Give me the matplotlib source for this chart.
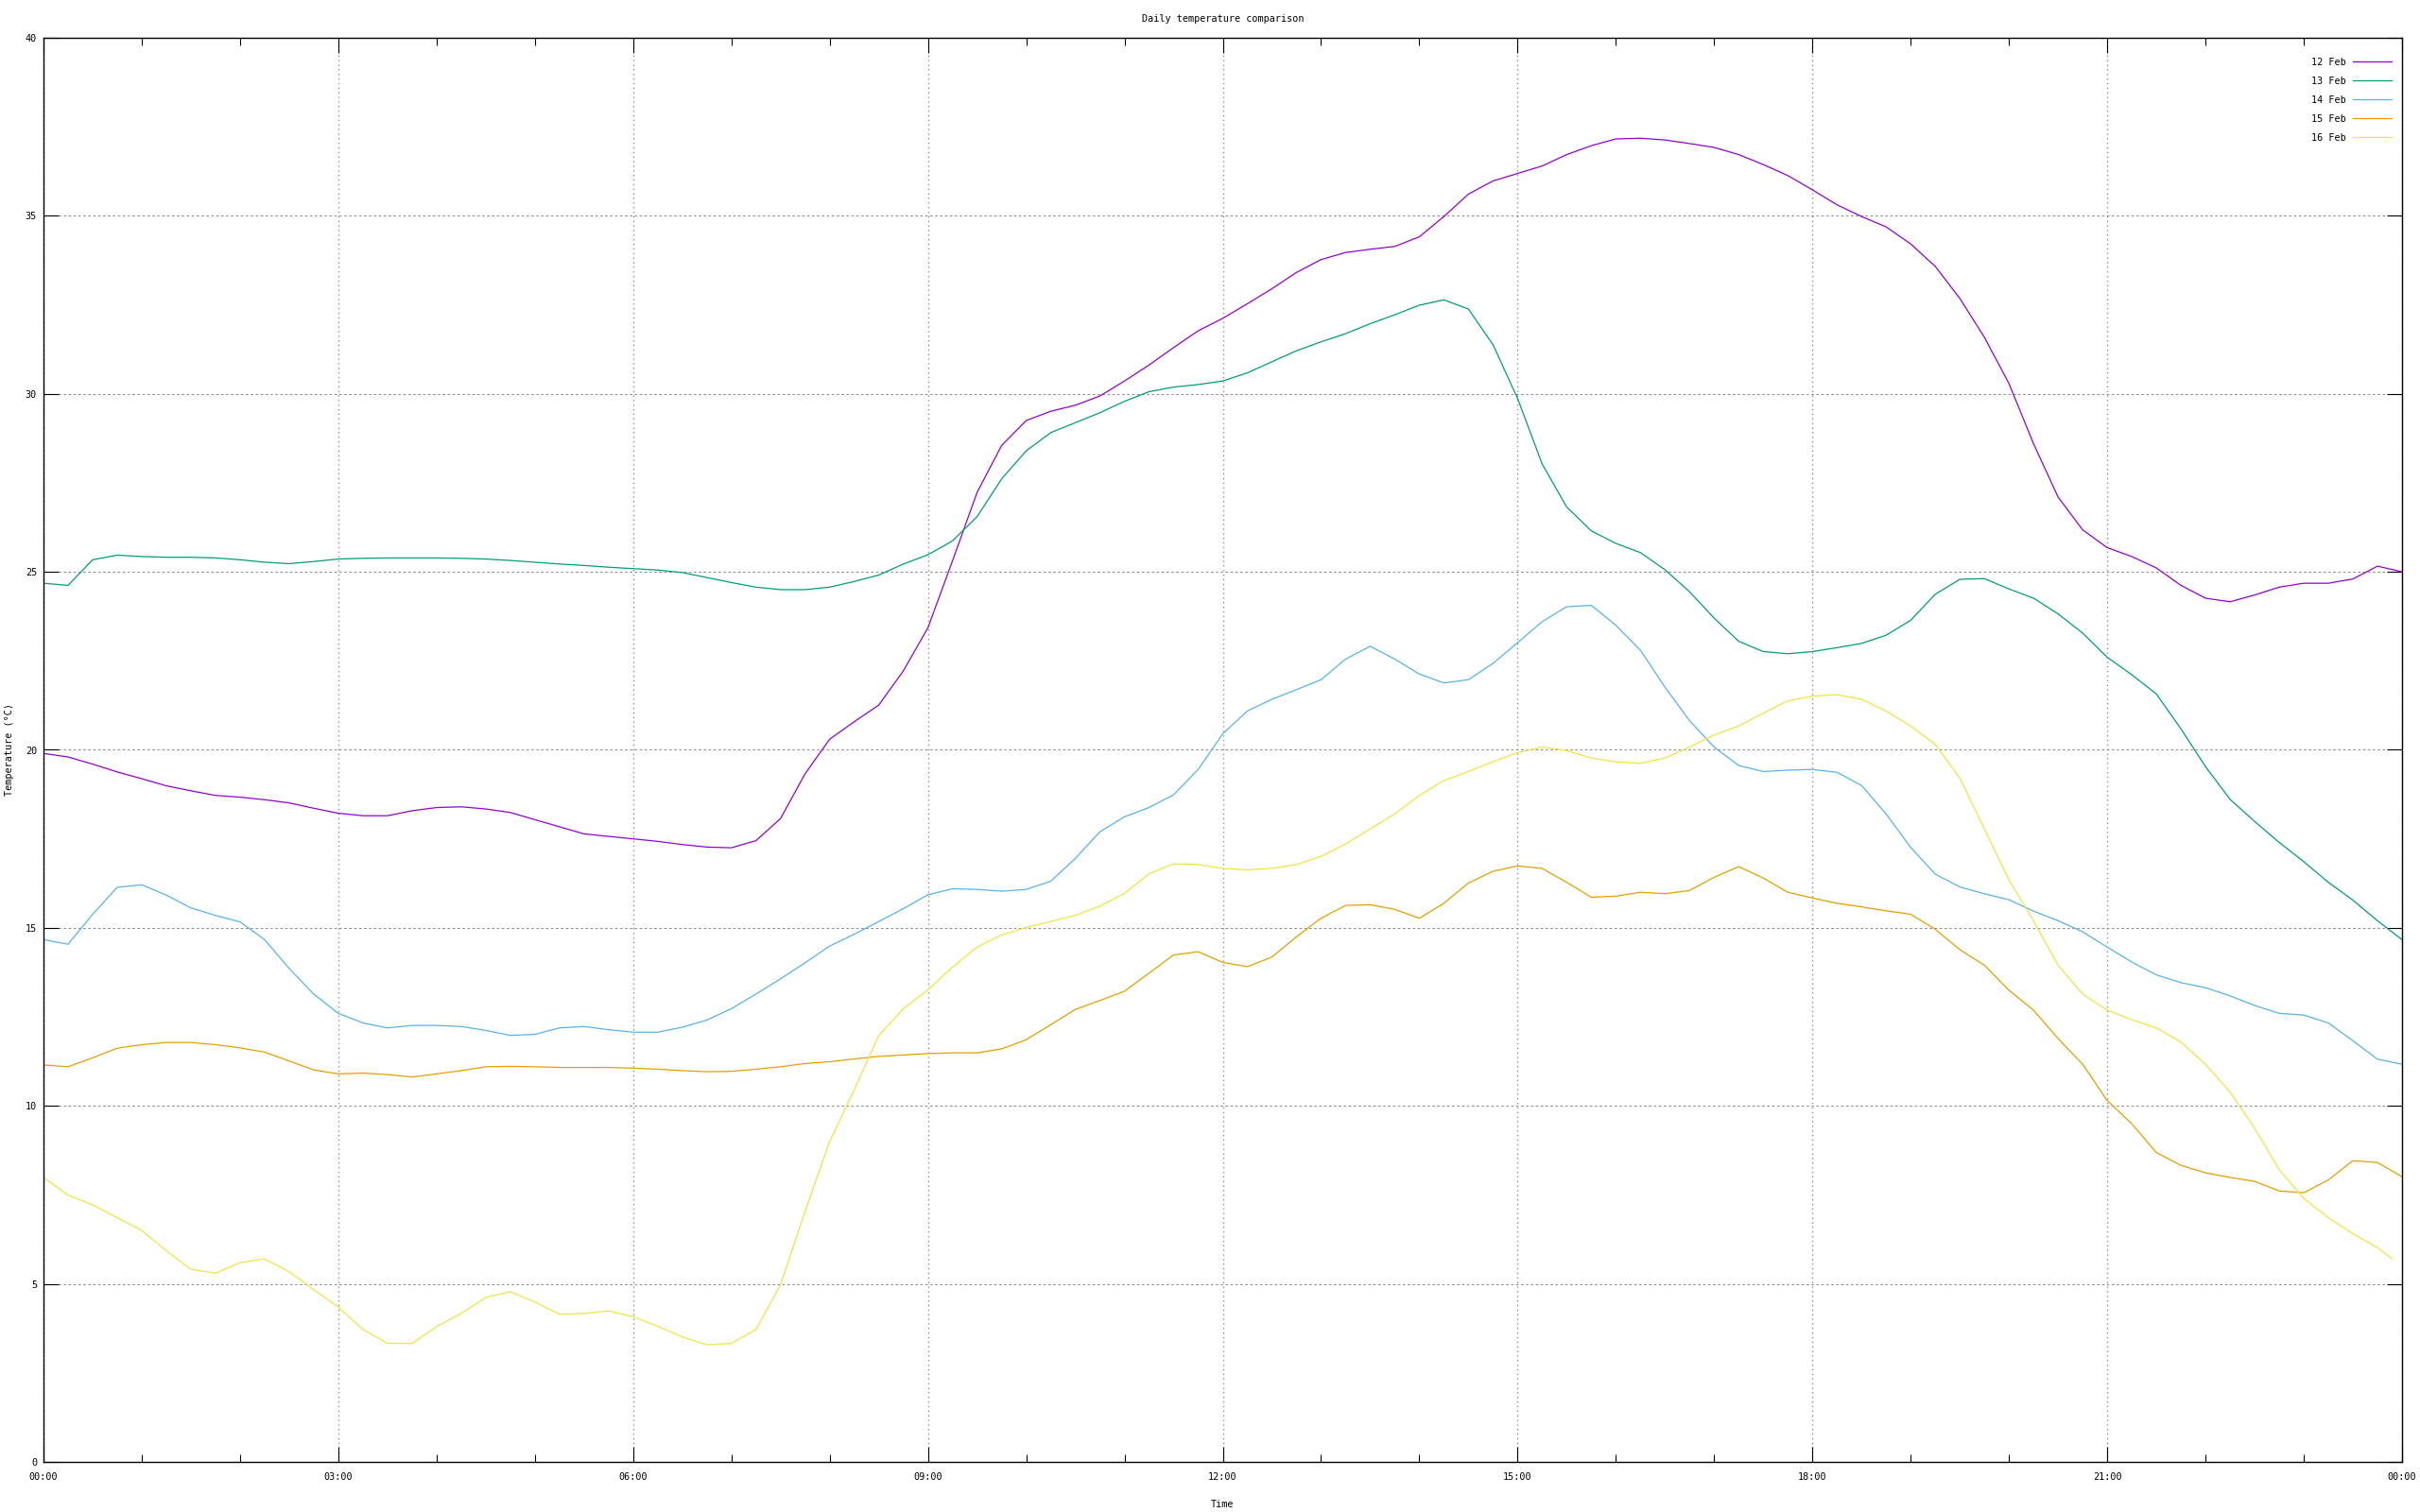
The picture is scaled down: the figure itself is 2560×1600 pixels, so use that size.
# Daily temperature comparison - gnuplot style line chart

import numpy as np
import matplotlib
matplotlib.use('Agg')
import matplotlib.pyplot as plt
from matplotlib.ticker import MultipleLocator

# Data: readings every 15 minutes, 00:00 -> 24:00
hours = np.arange(97) * 0.25
t_end_16 = 23.9  # last 16 Feb reading stops just before midnight

feb12 = [19.90, 19.80, 19.60, 19.38, 19.19, 18.99, 18.85, 18.72, 18.67, 18.60, 18.51, 18.36, 18.22, 18.15, 18.15, 18.29, 18.38,
         18.40, 18.34, 18.24, 18.04, 17.84, 17.64, 17.57, 17.50, 17.43, 17.34, 17.27, 17.25, 17.45, 18.07, 19.33, 20.30,
         20.79, 21.26, 22.22, 23.43, 25.31, 27.23, 28.55, 29.25, 29.51, 29.68, 29.94, 30.36, 30.81, 31.30, 31.77, 32.12,
         32.53, 32.95, 33.41, 33.77, 33.97, 34.06, 34.14, 34.41, 34.98, 35.61, 35.98, 36.19, 36.40, 36.72, 36.97, 37.16,
         37.18, 37.13, 37.03, 36.92, 36.72, 36.44, 36.13, 35.73, 35.31, 34.98, 34.69, 34.21, 33.58, 32.68, 31.59, 30.29,
         28.60, 27.10, 26.18, 25.68, 25.43, 25.11, 24.62, 24.26, 24.16, 24.35, 24.57, 24.68, 24.68, 24.80, 25.16, 25.00]

feb13 = [24.68, 24.62, 25.34, 25.47, 25.43, 25.41, 25.41, 25.39, 25.34, 25.27, 25.23, 25.29, 25.36, 25.38, 25.39, 25.39, 25.39,
         25.38, 25.36, 25.32, 25.27, 25.22, 25.18, 25.13, 25.09, 25.05, 24.98, 24.84, 24.70, 24.57, 24.50, 24.50, 24.57,
         24.73, 24.91, 25.22, 25.48, 25.87, 26.55, 27.61, 28.40, 28.91, 29.19, 29.47, 29.79, 30.06, 30.19, 30.26, 30.36,
         30.59, 30.90, 31.21, 31.46, 31.69, 31.97, 32.22, 32.49, 32.64, 32.38, 31.38, 29.87, 28.03, 26.82, 26.15, 25.80,
         25.54, 25.06, 24.44, 23.70, 23.05, 22.76, 22.70, 22.76, 22.87, 22.99, 23.22, 23.64, 24.37, 24.79, 24.81, 24.52,
         24.26, 23.82, 23.28, 22.60, 22.11, 21.57, 20.59, 19.53, 18.61, 17.99, 17.40, 16.86, 16.28, 15.78, 15.20, 14.67]

feb14 = [14.67, 14.54, 15.38, 16.14, 16.21, 15.92, 15.56, 15.35, 15.17, 14.67, 13.86, 13.14, 12.60, 12.33, 12.19, 12.26, 12.26,
         12.23, 12.12, 11.98, 12.01, 12.19, 12.23, 12.14, 12.07, 12.07, 12.21, 12.41, 12.73, 13.14, 13.57, 14.02, 14.49,
         14.82, 15.18, 15.54, 15.93, 16.10, 16.08, 16.03, 16.08, 16.31, 16.95, 17.70, 18.12, 18.38, 18.74, 19.45, 20.45,
         21.09, 21.42, 21.69, 21.97, 22.55, 22.91, 22.55, 22.13, 21.88, 21.97, 22.43, 23.01, 23.60, 24.02, 24.06, 23.50,
         22.80, 21.76, 20.82, 20.08, 19.56, 19.39, 19.43, 19.45, 19.37, 19.00, 18.20, 17.26, 16.51, 16.15, 15.96, 15.79,
         15.47, 15.20, 14.89, 14.46, 14.04, 13.68, 13.46, 13.32, 13.09, 12.82, 12.60, 12.55, 12.33, 11.83, 11.31, 11.17]

feb15 = [11.15, 11.10, 11.35, 11.62, 11.72, 11.78, 11.78, 11.72, 11.63, 11.51, 11.26, 11.01, 10.90, 10.92, 10.88, 10.81, 10.90,
         10.99, 11.10, 11.11, 11.10, 11.08, 11.08, 11.08, 11.06, 11.03, 10.99, 10.96, 10.97, 11.03, 11.10, 11.19, 11.24,
         11.32, 11.39, 11.43, 11.47, 11.49, 11.49, 11.60, 11.86, 12.28, 12.71, 12.96, 13.22, 13.73, 14.24, 14.33, 14.03,
         13.91, 14.18, 14.75, 15.27, 15.63, 15.65, 15.52, 15.27, 15.69, 16.26, 16.59, 16.74, 16.67, 16.28, 15.86, 15.89,
         16.00, 15.96, 16.05, 16.42, 16.72, 16.40, 16.00, 15.84, 15.69, 15.59, 15.48, 15.38, 14.96, 14.39, 13.95, 13.25,
         12.69, 11.89, 11.17, 10.15, 9.50, 8.69, 8.33, 8.12, 7.99, 7.88, 7.61, 7.56, 7.92, 8.46, 8.41, 8.01]

feb16 = [7.99, 7.49, 7.22, 6.86, 6.50, 5.93, 5.41, 5.30, 5.60, 5.70, 5.34, 4.84, 4.35, 3.72, 3.33, 3.33, 3.80,
         4.17, 4.62, 4.78, 4.49, 4.15, 4.17, 4.24, 4.08, 3.81, 3.51, 3.29, 3.33, 3.72, 4.98, 7.04, 9.00,
         10.45, 11.98, 12.73, 13.26, 13.90, 14.46, 14.80, 15.01, 15.18, 15.35, 15.61, 15.97, 16.52, 16.80, 16.78, 16.67,
         16.63, 16.67, 16.78, 17.01, 17.36, 17.78, 18.20, 18.72, 19.14, 19.39, 19.67, 19.92, 20.08, 19.98, 19.77, 19.66,
         19.62, 19.77, 20.08, 20.42, 20.67, 21.03, 21.38, 21.51, 21.55, 21.42, 21.09, 20.67, 20.15, 19.21, 17.78, 16.35,
         15.20, 13.95, 13.14, 12.69, 12.42, 12.19, 11.79, 11.17, 10.39, 9.37, 8.21, 7.40, 6.86, 6.41, 6.02, 5.70]

labels = ['12 Feb', '13 Feb', '14 Feb', '15 Feb', '16 Feb']
colors = ['#9400d3', '#009e73', '#56b4e9', '#e69f00', '#f0e442']
xtick_labels = ['00:00', '03:00', '06:00', '09:00', '12:00', '15:00', '18:00', '21:00', '00:00']

hours_16 = np.append(hours[:96], t_end_16)
series = [(hours, feb12), (hours, feb13), (hours, feb14), (hours, feb15), (hours_16, feb16)]

# Plotting
fs = 7.3
plt.rcParams['font.family'] = 'DejaVu Sans Mono'
fig = plt.figure(figsize=(25.6, 16), dpi=100)
W, H = 2560, 1600
x0, x1, y0, y1 = 46, 2541, 40, 1547
ax = fig.add_axes([x0 / W, 1 - y1 / H, (x1 - x0) / W, (y1 - y0) / H])

for (x, y), lab, c in zip(series, labels, colors):
    ax.plot(x, y, color=c, lw=0.9, label=lab)

ax.set_xlim(0, 24)
ax.set_ylim(0, 40)
ax.set_xticks(np.arange(0, 25, 3))
ax.set_xticklabels(xtick_labels)
ax.xaxis.set_minor_locator(MultipleLocator(1))
ax.set_yticks(np.arange(0, 41, 5))

ax.tick_params(which='major', direction='in', length=11.5, width=0.8, top=True, right=True,
               labelsize=fs, color='black')
ax.tick_params(which='minor', direction='in', length=5.8, width=0.8, top=True, right=True)
ax.tick_params(axis='x', pad=8)
ax.tick_params(axis='y', pad=5)

# gnuplot-like grid: dotted verticals, short dashes horizontally
ax.xaxis.grid(True, which='major', color='#909090', lw=1.0, ls=(0, (1, 2.5)))
ax.yaxis.grid(True, which='major', color='#8c8c8c', lw=0.75, ls=(0, (2.5, 2.5)))
ax.set_axisbelow(True)
for s in ax.spines.values():
    s.set_linewidth(1.0)
    s.set_color('black')

fig.text(1293.5 / W, 1 - 20 / H, 'Daily temperature comparison', ha='center', va='center', fontsize=fs)
fig.text(1293.5 / W, 1 - 1592 / H, 'Time', ha='center', va='center', fontsize=fs)
fig.text(10 / W, 1 - 793 / H, 'Temperature (°C)', ha='center', va='center', rotation=90, fontsize=fs)

ax.legend(loc='upper right', bbox_to_anchor=(1 - 11 / (x1 - x0), 1 - 21 / (y1 - y0)),
          frameon=False, markerfirst=False, fontsize=fs, handlelength=4.05,
          handletextpad=0.7, labelspacing=0.98, borderaxespad=0, borderpad=0)

plt.savefig('out.png', dpi=100)
plt.close()
